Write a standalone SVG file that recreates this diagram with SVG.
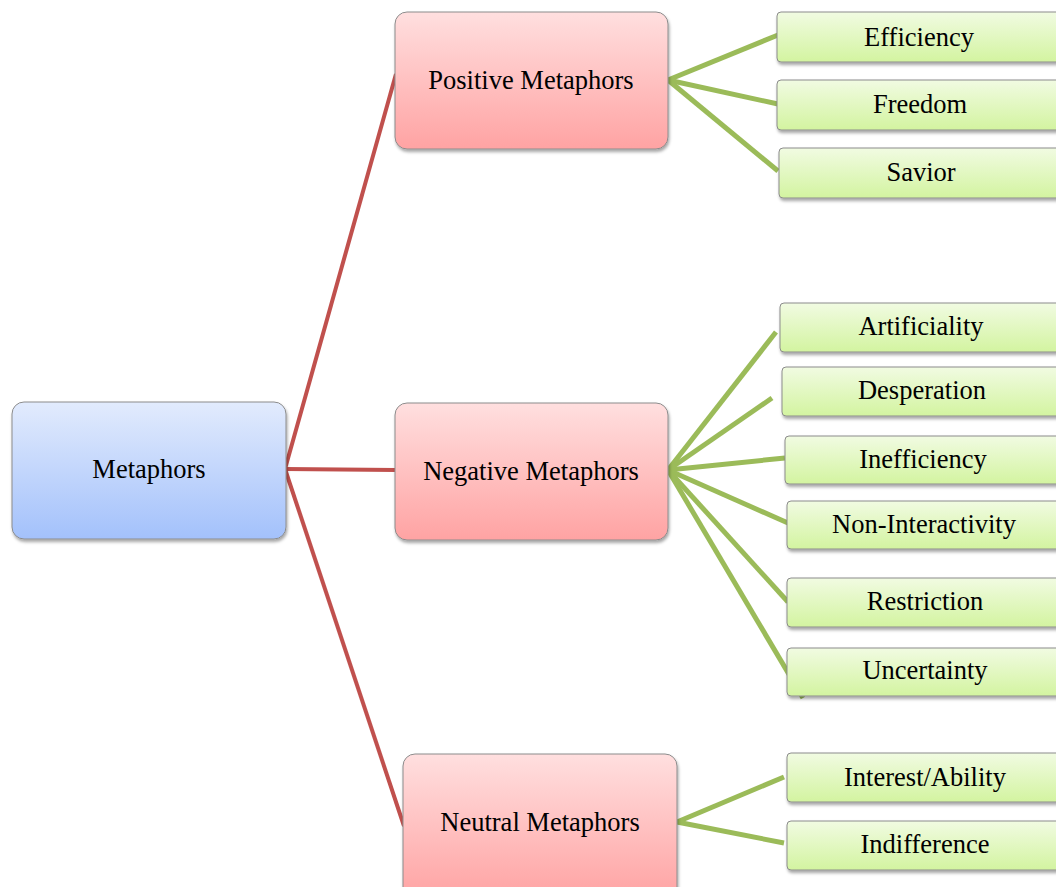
<svg xmlns="http://www.w3.org/2000/svg" width="1056" height="887" viewBox="0 0 1056 887">
<defs>
<linearGradient id="gBlue" x1="0" y1="0" x2="0" y2="1"><stop offset="0" stop-color="#e2ebfd"/><stop offset="1" stop-color="#a3c1fb"/></linearGradient>
<linearGradient id="gRed" x1="0" y1="0" x2="0" y2="1"><stop offset="0" stop-color="#ffdfdf"/><stop offset="1" stop-color="#ffa3a3"/></linearGradient>
<linearGradient id="gGreen" x1="0" y1="0" x2="0" y2="1"><stop offset="0" stop-color="#f1fbe2"/><stop offset="1" stop-color="#d3f4a0"/></linearGradient>
<filter id="sh" x="-10%" y="-10%" width="130%" height="140%"><feDropShadow dx="1" dy="2.5" stdDeviation="1.5" flood-color="#000" flood-opacity="0.35"/></filter>
</defs>
<style>
.root{fill:url(#gBlue);stroke:#8c8c8c;stroke-width:1;filter:url(#sh)}
.mid{fill:url(#gRed);stroke:#8c8c8c;stroke-width:1;filter:url(#sh)}
.leaf{fill:url(#gGreen);stroke:#8c8c8c;stroke-width:1;filter:url(#sh)}
.red{stroke:#c0504d;stroke-width:4;fill:none}
.grn{stroke:#9bbb59;stroke-width:5;fill:none}
text{font-family:"Liberation Serif","Times New Roman",serif;font-size:26.5px;fill:#000;text-anchor:middle}
</style>
<rect width="1056" height="887" fill="#fff"/>
<g id="connectors">
<line class="red" x1="285" y1="469" x2="396" y2="74"/>
<line class="red" x1="285" y1="469" x2="396" y2="470"/>
<line class="red" x1="285" y1="469" x2="404" y2="826"/>
<line class="grn" x1="668" y1="80" x2="778" y2="35"/>
<line class="grn" x1="668" y1="80" x2="778" y2="104"/>
<line class="grn" x1="668" y1="80" x2="778" y2="171"/>
<line class="grn" x1="668" y1="470" x2="776" y2="332"/>
<line class="grn" x1="668" y1="470" x2="772" y2="398"/>
<line class="grn" x1="668" y1="470" x2="785" y2="458"/>
<line class="grn" x1="668" y1="470" x2="788" y2="523"/>
<line class="grn" x1="668" y1="470" x2="788" y2="602"/>
<line class="grn" x1="668" y1="470" x2="803" y2="698"/>
<line class="grn" x1="677" y1="822" x2="784" y2="777"/>
<line class="grn" x1="677" y1="822" x2="784" y2="843"/>
</g>
<g id="n-metaphors"><rect class="root" x="12" y="402" width="274" height="137" rx="12"/><text x="149" y="478">Metaphors</text></g>
<g id="n-positive"><rect class="mid" x="395" y="12" width="273" height="137" rx="12"/><text x="531" y="89">Positive Metaphors</text></g>
<g id="n-negative"><rect class="mid" x="395" y="403" width="273" height="137" rx="12"/><text x="531" y="480">Negative Metaphors</text></g>
<g id="n-neutral"><rect class="mid" x="403" y="754" width="274" height="145" rx="12"/><text x="540" y="831">Neutral Metaphors</text></g>
<g id="n-efficiency"><rect class="leaf" x="777" y="12" width="286" height="50" rx="4"/><text x="919" y="46">Efficiency</text></g>
<g id="n-freedom"><rect class="leaf" x="777" y="80" width="286" height="50" rx="4"/><text x="920" y="113">Freedom</text></g>
<g id="n-savior"><rect class="leaf" x="779" y="148" width="286" height="50" rx="4"/><text x="921" y="181">Savior</text></g>
<g id="n-artificiality"><rect class="leaf" x="780" y="303" width="286" height="49" rx="4"/><text x="921" y="335">Artificiality</text></g>
<g id="n-desperation"><rect class="leaf" x="782" y="367" width="286" height="49" rx="4"/><text x="922" y="399">Desperation</text></g>
<g id="n-inefficiency"><rect class="leaf" x="785" y="436" width="286" height="48" rx="4"/><text x="923" y="468">Inefficiency</text></g>
<g id="n-noninteractivity"><rect class="leaf" x="787" y="501" width="286" height="48" rx="4"/><text x="924" y="533">Non-Interactivity</text></g>
<g id="n-restriction"><rect class="leaf" x="787" y="578" width="286" height="49" rx="4"/><text x="925" y="610">Restriction</text></g>
<g id="n-uncertainty"><rect class="leaf" x="787" y="648" width="286" height="48" rx="4"/><text x="925" y="679">Uncertainty</text></g>
<g id="n-interest"><rect class="leaf" x="787" y="753" width="286" height="49" rx="4"/><text x="925" y="786">Interest/Ability</text></g>
<g id="n-indifference"><rect class="leaf" x="787" y="821" width="286" height="49" rx="4"/><text x="925" y="853">Indifference</text></g>
</svg>
